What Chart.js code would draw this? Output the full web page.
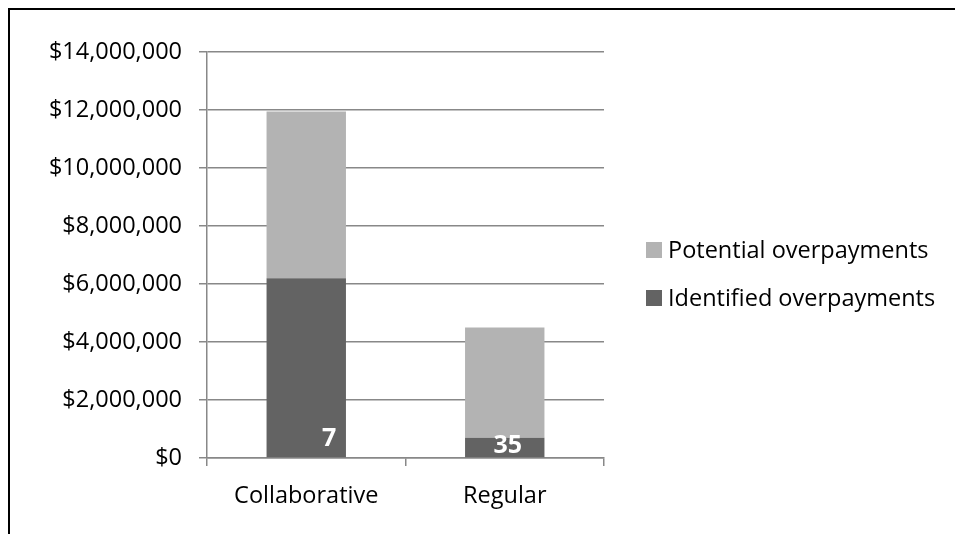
<!DOCTYPE html>
<html>
<head>
<meta charset="utf-8">
<script src="https://cdn.jsdelivr.net/npm/chart.js@4.4.0/dist/chart.umd.min.js"></script>
<style>
  html, body { margin: 0; padding: 0; background: #fff; }
  #wrap { position: relative; width: 955px; height: 534px; overflow: hidden; }
  #frame { position: absolute; left: 8px; top: 8px; width: 980px; height: 560px;
           border-left: 2px solid #000; border-top: 2px solid #000; }
  canvas { position: absolute; left: 0; top: 0; }
</style>
</head>
<body>
<div id="wrap">
  <canvas id="overpayChart" width="955" height="534"></canvas>
  <div id="frame"></div>
</div>
<script>
    // chart values
    var categories = ['Collaborative', 'Regular'];
    var identifiedOverpayments = [6200000, 700000];
    var potentialOverpayments = [5750000, 3800000];
    var identifiedCounts = [7, 35];
    var yMax = 14000000;
    var yStep = 2000000;

    var FONT = "'Open Sans', 'Liberation Sans', sans-serif";
    var GRID = '#888888';
    var TEXT_SIZE = 23.5;

    /**
     * White count labels near the base of the dark bars.
     */
    var countLabels = {
        id: 'countLabels',
        afterDatasetsDraw: function(chart, args, opts) {
            var ctx = chart.ctx;
            var meta = chart.getDatasetMeta(0);
            ctx.save();
            ctx.fillStyle = '#ffffff';
            ctx.font = 'bold 25px ' + FONT;
            ctx.textAlign = 'center';
            ctx.textBaseline = 'alphabetic';
            meta.data.forEach(function(bar, i) {
                var nudge = opts.nudge[i];
                ctx.fillText(String(identifiedCounts[i]), bar.x + nudge[0], bar.base + nudge[1]);
            });
            ctx.restore();
        }
    };

    /**
     * Legend drawn at the right, top item = top series.
     */
    var sideLegend = {
        id: 'sideLegend',
        afterDraw: function(chart, args, opts) {
            var ctx = chart.ctx;
            var sets = chart.data.datasets.slice().reverse();
            ctx.save();
            ctx.font = TEXT_SIZE + 'px ' + FONT;
            ctx.textBaseline = 'middle';
            ctx.textAlign = 'left';
            sets.forEach(function(ds, i) {
                var cy = opts.top + i * opts.step;
                ctx.fillStyle = ds.backgroundColor;
                ctx.fillRect(opts.left, cy - 8, 16, 16);
                ctx.fillStyle = '#000000';
                ctx.fillText(ds.label, opts.left + 22, cy + 1);
            });
            ctx.restore();
        }
    };

    var ctx = document.getElementById('overpayChart').getContext('2d');
    new Chart(ctx, {
        type: 'bar',
        data: {
            labels: categories,
            datasets: [{
                label: 'Identified overpayments',
                data: identifiedOverpayments,
                backgroundColor: '#636363',
                barPercentage: 0.4,
                categoryPercentage: 1
            }, {
                label: 'Potential overpayments',
                data: potentialOverpayments,
                backgroundColor: '#b3b3b3',
                barPercentage: 0.4,
                categoryPercentage: 1
            }]
        },
        options: {
            responsive: false,
            animation: false,
            layout: { padding: { left: 0, top: 52, right: 351, bottom: 0 } },
            plugins: {
                legend: { display: false },
                tooltip: { enabled: false },
                countLabels: { nudge: [[23, -11], [3, -4]] },
                sideLegend: { left: 646, top: 250, step: 48 }
            },
            scales: {
                x: {
                    stacked: true,
                    afterFit: function(scale) { scale.height = 76; },
                    grid: { drawOnChartArea: false, drawTicks: true, tickLength: 8,
                            color: GRID, lineWidth: 1.5 },
                    border: { color: GRID, width: 1.5 },
                    ticks: { color: '#000', padding: 16, font: { family: FONT, size: TEXT_SIZE } }
                },
                y: {
                    stacked: true,
                    min: 0,
                    max: yMax,
                    afterFit: function(scale) { scale.width = 207; },
                    grid: { color: GRID, lineWidth: 1.5, tickLength: 8 },
                    border: { color: GRID, width: 1.5 },
                    ticks: {
                        stepSize: yStep,
                        color: '#000',
                        padding: 17,
                        font: { family: FONT, size: TEXT_SIZE },
                        callback: function(v) { return '$' + v.toLocaleString('en-US'); }
                    }
                }
            }
        },
        plugins: [countLabels, sideLegend]
    });
</script>
</body>
</html>
